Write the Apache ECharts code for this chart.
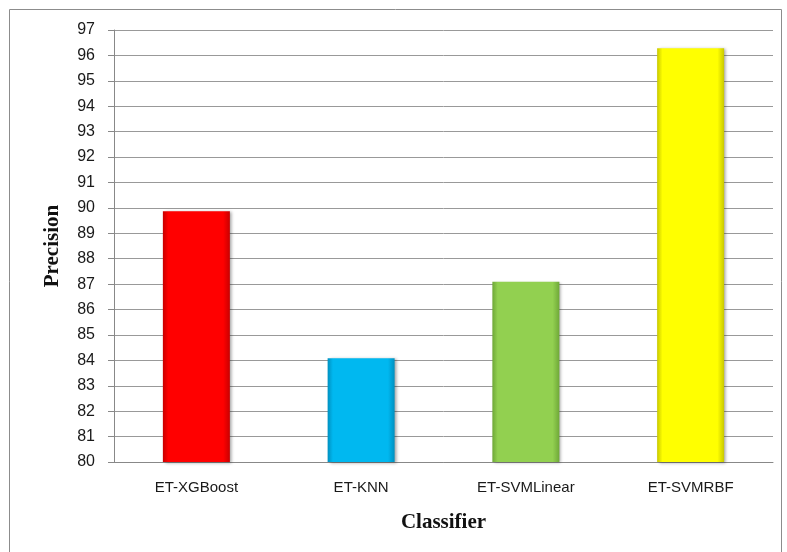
<!DOCTYPE html>
<html>
<head>
<meta charset="utf-8">
<script src="https://cdn.jsdelivr.net/npm/echarts@6/dist/echarts.min.js"></script>
<style>
  html, body { margin: 0; padding: 0; background: #fff; }
  #chart { width: 787px; height: 552px; }
</style>
</head>
<body>
<div id="chart"></div>
<script>
// Classifier precision results
const classifiers = ['ET-XGBoost', 'ET-KNN', 'ET-SVMLinear', 'ET-SVMRBF'];
const precision = [89.87, 84.08, 87.09, 96.28];
const barColors = ['#ff0000', '#00b8f0', '#92d050', '#ffff00'];
const edgeColors = ['#c80000', '#0090c0', '#6fa838', '#c8c800'];

const chart = echarts.init(document.getElementById('chart'));

function barStyle(i) {
  return {
    color: {
      type: 'linear', x: 0, y: 0, x2: 1, y2: 0,
      colorStops: [
        { offset: 0, color: edgeColors[i] },
        { offset: 0.08, color: barColors[i] },
        { offset: 0.9, color: barColors[i] },
        { offset: 1, color: edgeColors[i] }
      ]
    },
    shadowColor: 'rgba(0,0,0,0.35)',
    shadowBlur: 3,
    shadowOffsetX: 2,
    shadowOffsetY: 1
  };
}

chart.setOption({
  animation: false,
  graphic: [{
    type: 'rect',
    shape: { x: 9.5, y: 9.5, width: 772, height: 560 },
    style: { fill: 'none', stroke: '#8c8c8c', lineWidth: 1 },
    silent: true
  }],
  grid: { left: 114, right: 14, top: 30, bottom: 90 },
  xAxis: {
    type: 'category',
    data: classifiers,
    name: 'Classifier',
    nameLocation: 'middle',
    nameGap: 50,
    nameTextStyle: { fontFamily: 'Liberation Serif', fontWeight: 'bold', fontSize: 21, color: '#111' },
    axisLine: { lineStyle: { color: '#888', width: 1 } },
    axisTick: { show: false },
    axisLabel: { fontFamily: 'Liberation Sans', fontSize: 15, color: '#1a1a1a', margin: 18 }
  },
  yAxis: {
    type: 'value',
    min: 80,
    max: 97,
    interval: 1,
    name: 'Precision',
    nameLocation: 'middle',
    nameGap: 51,
    nameTextStyle: { fontFamily: 'Liberation Serif', fontWeight: 'bold', fontSize: 21, color: '#111' },
    axisLine: { show: true, lineStyle: { color: '#888', width: 1 } },
    axisTick: { show: true, length: 6, lineStyle: { color: '#888' } },
    axisLabel: { fontFamily: 'Liberation Sans', fontSize: 16, color: '#1a1a1a', margin: 19 },
    splitLine: { lineStyle: { color: '#999', width: 1 } }
  },
  series: [{
    type: 'bar',
    barWidth: 67,
    data: precision.map((v, i) => ({ value: v, itemStyle: barStyle(i) }))
  }]
});
</script>
</body>
</html>
